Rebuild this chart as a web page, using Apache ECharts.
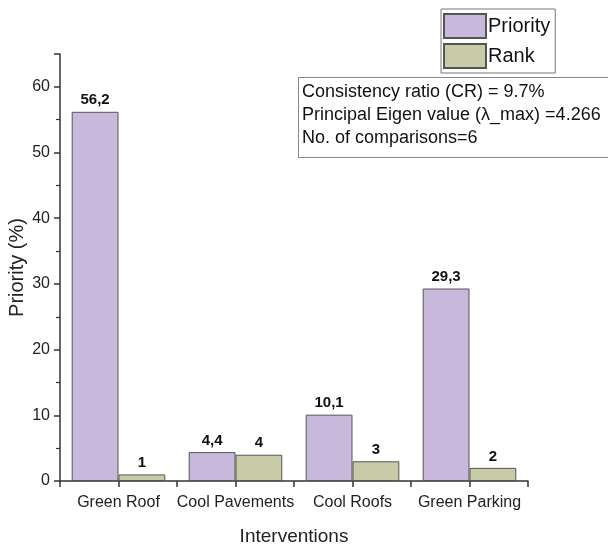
<!DOCTYPE html>
<html><head><meta charset="utf-8">
<script src="https://cdn.jsdelivr.net/npm/echarts@6/dist/echarts.min.js"></script>
<style>html,body{margin:0;padding:0;background:#fff}#c{width:608px;height:547px}</style>
</head><body><div id="c"></div>
<script>
const categories = ['Green Roof', 'Cool Pavements', 'Cool Roofs', 'Green Parking'];
const priority = [56.2, 4.4, 10.1, 29.3];
const rank = [1, 4, 3, 2];
const yTicks = [0, 10, 20, 30, 40, 50, 60];
const infoLines = ['Consistency ratio (CR) = 9.7%', 'Principal Eigen value (\u03bb_max) =4.266', 'No. of comparisons=6'];

const FONT = 'Liberation Sans';
const chart = echarts.init(document.getElementById('c'));
const lbl = {
  show: true, position: 'top', fontFamily: FONT, fontWeight: 'bold', fontSize: 15, color: '#111', distance: 4,
  formatter: p => String(p.value).replace('.', ',')
};
const tickStyle = { color: '#333', width: 1.5 };
chart.setOption({
  animation: false,
  textStyle: { fontFamily: FONT },
  grid: { left: 60, right: 80, top: 54, bottom: 66, containLabel: false, outerBoundsMode: 'none' },
  legend: {
    orient: 'vertical', left: 441, top: 9,
    data: ['Priority', 'Rank'],
    itemWidth: 42, itemHeight: 24, itemGap: 4,
    padding: [4, 5, 4, 2],
    borderColor: '#777', borderWidth: 1, backgroundColor: '#fff',
    textStyle: { fontFamily: FONT, fontSize: 20, color: '#111', padding: [0, 0, 0, -3] },
    icon: 'rect'
  },
  xAxis: [{
    type: 'category', data: categories,
    name: 'Interventions', nameLocation: 'middle', nameGap: 46,
    nameTextStyle: { fontFamily: FONT, fontSize: 19, color: '#222' },
    axisLine: { lineStyle: tickStyle },
    axisTick: { show: true, interval: 0, length: 6, lineStyle: tickStyle },
    axisLabel: { interval: 0, fontFamily: FONT, fontSize: 16, color: '#222', margin: 14 }
  }, {
    type: 'category', data: categories, position: 'bottom',
    axisLine: { show: false },
    axisTick: { show: true, interval: 0, alignWithLabel: true, length: 6, lineStyle: tickStyle },
    axisLabel: { show: false }
  }],
  yAxis: {
    type: 'value', min: 0, max: 65, interval: 10,
    name: 'Priority (%)', nameLocation: 'middle', nameGap: 33, nameMoveOverlap: false,
    nameTextStyle: { fontFamily: FONT, fontSize: 20, color: '#222' },
    axisLine: { show: true, lineStyle: tickStyle },
    axisTick: { show: true, length: 6, lineStyle: tickStyle },
    minorTick: { show: true, splitNumber: 2, length: 4, lineStyle: { color: '#333', width: 1.2 } },
    splitLine: { show: false },
    axisLabel: { fontFamily: FONT, fontSize: 16, color: '#222', margin: 10,
      formatter: v => yTicks.includes(v) ? String(v) : '' }
  },
  series: [
    { name: 'Priority', type: 'bar', data: priority, barGap: '0%', barCategoryGap: '20%',
      itemStyle: { color: '#c8b8dc', borderColor: '#555', borderWidth: 1 }, label: lbl },
    { name: 'Rank', type: 'bar', data: rank,
      itemStyle: { color: '#c8cba6', borderColor: '#555', borderWidth: 1 }, label: lbl }
  ],
  graphic: [
    { type: 'rect', shape: { x: 298.5, y: 77.5, width: 320, height: 80 },
      style: { fill: '#fff', stroke: '#888', lineWidth: 1 } },
    { type: 'text', x: 302, y: 81, style: { text: infoLines.join('\n'), font: '18px "Liberation Sans"', fill: '#111', lineHeight: 23 } }
  ]
});
</script></body></html>
